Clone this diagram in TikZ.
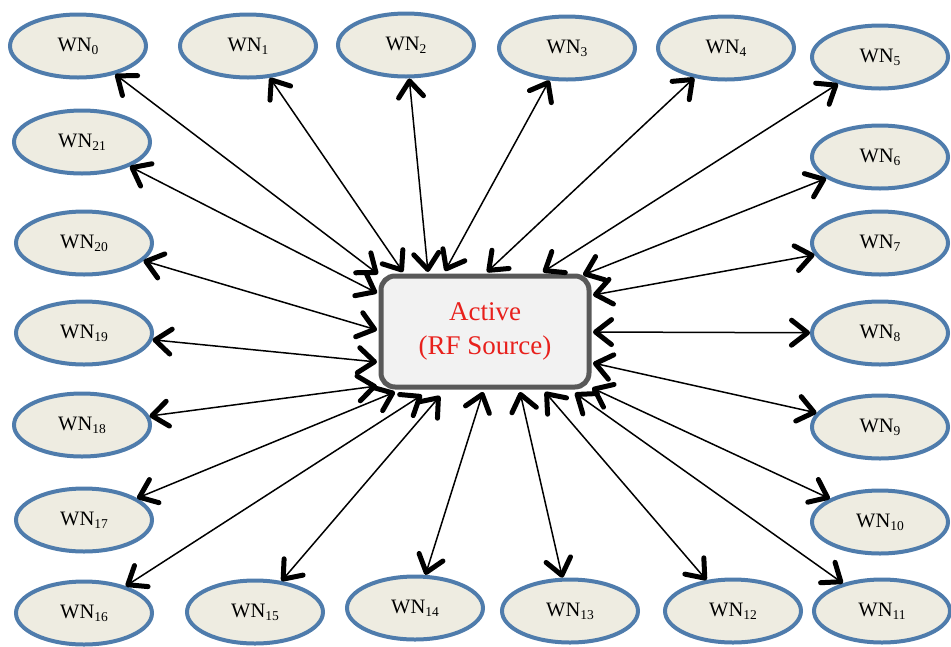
\documentclass[tikz,border=0pt]{standalone}
\usepackage{fontspec}
\setmainfont{Liberation Serif}
\usetikzlibrary{shapes.geometric,arrows.meta}
\definecolor{wnblue}{HTML}{4F7CAC}
\definecolor{wnfill}{HTML}{EEECE1}
\definecolor{boxgray}{HTML}{595959}
\definecolor{boxfill}{HTML}{F2F2F2}
\definecolor{srcred}{HTML}{E8201C}
\newcommand{\wnlabel}[1]{WN\raisebox{-0.35ex}{\fontsize{13.5}{14}\selectfont #1}}
\tikzset{
  wn/.style={ellipse, draw=wnblue, fill=wnfill, line width=4pt,
    minimum width=136pt, minimum height=63pt, inner sep=0pt,
    font=\fontsize{20.5}{24}\selectfont},
  srcbox/.style={rectangle, rounded corners=14pt, draw=boxgray, fill=boxfill,
    line width=5pt, minimum width=208pt, minimum height=111pt, align=center,
    text=srcred, font=\fontsize{27}{34}\selectfont},
  bi/.style={{Straight Barb[length=16pt,width=25pt,line width=5pt 0 1,line cap=round,line join=round]}-{Straight Barb[length=16pt,width=25pt,line width=5pt 0 1,line cap=round,line join=round]},
    line width=1.5pt}
}
\begin{document}
\begin{tikzpicture}[x=1pt,y=-1pt]
\useasboundingbox (0,0) rectangle (951,646);
% center
\node[srcbox] (src) at (485,331.5) {Active\\(RF Source)};
% top row
\node[wn] (wn0) at (78,46) {\wnlabel{0}};
\node[wn] (wn1) at (248,46) {\wnlabel{1}};
\node[wn] (wn2) at (406,45) {\wnlabel{2}};
\node[wn] (wn3) at (567,48) {\wnlabel{3}};
\node[wn] (wn4) at (726,48) {\wnlabel{4}};
\node[wn] (wn5) at (880,57) {\wnlabel{5}};
% right column
\node[wn] (wn6) at (880,157) {\wnlabel{6}};
\node[wn] (wn7) at (880,243) {\wnlabel{7}};
\node[wn] (wn8) at (880,333) {\wnlabel{8}};
\node[wn] (wn9) at (880,427) {\wnlabel{9}};
\node[wn] (wn10) at (880,522) {\wnlabel{10}};
\node[wn] (wn11) at (882,611) {\wnlabel{11}};
% bottom row
\node[wn] (wn12) at (733,611) {\wnlabel{12}};
\node[wn] (wn13) at (570,611) {\wnlabel{13}};
\node[wn] (wn14) at (415,608) {\wnlabel{14}};
\node[wn] (wn15) at (255,612) {\wnlabel{15}};
\node[wn] (wn16) at (84,613) {\wnlabel{16}};
% left column
\node[wn] (wn17) at (84,520) {\wnlabel{17}};
\node[wn] (wn18) at (82,425) {\wnlabel{18}};
\node[wn] (wn19) at (84,333) {\wnlabel{19}};
\node[wn] (wn20) at (84,243) {\wnlabel{20}};
\node[wn] (wn21) at (82,142) {\wnlabel{21}};
% box-side ends
\coordinate (b0) at (378,274);
\coordinate (b1) at (403,272);
\coordinate (b2) at (428,272);
\coordinate (b3) at (445,271);
\coordinate (b4) at (487,272);
\coordinate (b5) at (543,272);
\coordinate (b6) at (583,275);
\coordinate (b7) at (593,295);
\coordinate (b8) at (593,332);
\coordinate (b9) at (593,363);
\coordinate (b10) at (592,388);
\coordinate (b11) at (575,393);
\coordinate (b12) at (545,392);
\coordinate (b13) at (520,392);
\coordinate (b14) at (483,392);
\coordinate (b15) at (440,396);
\coordinate (b16) at (422,395);
\coordinate (b17) at (395,392);
\coordinate (b18) at (377,386);
\coordinate (b19) at (377,362);
\coordinate (b20) at (377,330);
\coordinate (b21) at (377,293);
\foreach \i in {0,...,21} {
  \draw[bi] (wn\i) -- (b\i);
}
\end{tikzpicture}
\end{document}
